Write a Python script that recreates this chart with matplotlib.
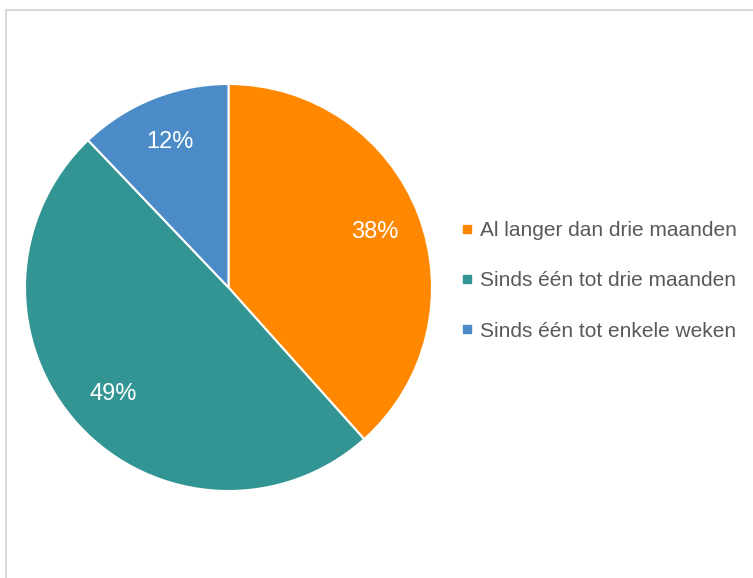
import matplotlib.pyplot as plt
from matplotlib.lines import Line2D
from matplotlib.patches import Rectangle

categories = ['Al langer dan drie maanden', 'Sinds één tot drie maanden', 'Sinds één tot enkele weken']
shares = [38, 49, 12]
colors = ['#FF8800', '#339593', '#4A8BC8']

plt.rcParams['font.family'] = ['Liberation Sans', 'DejaVu Sans']

fig = plt.figure(figsize=(7.53, 5.78), dpi=100)

# light chart-area frame, cut off at right and bottom
fig.patches.append(Rectangle((6 / 753, -0.05), 1.0, 1 - 10 / 578 + 0.05,
                             transform=fig.transFigure, fill=False,
                             edgecolor='#d9d9d9', linewidth=1.5))

ax = fig.add_axes([25 / 753, 87 / 578, 407 / 753, 407 / 578])
wedges, texts, autotexts = ax.pie(
    shares, colors=colors, startangle=90, counterclock=False,
    autopct=lambda p: '', pctdistance=0.77,
    wedgeprops=dict(edgecolor='white', linewidth=1.5))
for t, v in zip(autotexts, shares):
    t.set_text(f'{v}%')
    t.set_color('white')
    t.set_fontsize(17)
ax.set_xlim(-1, 1)
ax.set_ylim(-1, 1)
ax.set_aspect('equal')

handles = [Line2D([], [], marker='s', linestyle='none', markersize=6,
                  markerfacecolor=c, markeredgecolor=c) for c in colors]
leg = fig.legend(handles, categories, loc='center left',
                 bbox_to_anchor=(452 / 753, 1 - 281 / 578),
                 frameon=False, fontsize=15, labelspacing=1.5,
                 handlelength=0.6, handletextpad=0.35, borderaxespad=0)
for t in leg.get_texts():
    t.set_color('#595959')

fig.savefig('out.png', dpi=100)
